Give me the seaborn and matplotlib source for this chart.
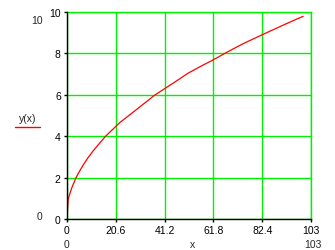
import matplotlib
matplotlib.use("Agg")
import matplotlib.pyplot as plt
import seaborn as sns
import pandas as pd

# data
x_vals = [0, 0.25, 0.5, 1.0, 2.0, 3.8, 5.5, 6.9, 9.0, 11.1, 13.9, 16.3, 19.5, 22.4,
          28.7, 33.0, 37.1, 44.9, 51.2, 56.0, 61.1, 67.4, 74.0, 82.2, 90.0, 97.0, 99.7]
y_vals = [0, 0.5, 0.95, 1.15, 1.5, 2.0, 2.35, 2.62, 2.98, 3.3, 3.68, 4.0, 4.35, 4.67,
          5.23, 5.62, 5.99, 6.57, 7.05, 7.35, 7.65, 8.05, 8.45, 8.89, 9.3, 9.66, 9.79]
x_ticks = [0, 20.6, 41.2, 61.8, 82.4, 103]
x_tick_labels = ["0", "20.6", "41.2", "61.8", "82.4", "103"]
y_ticks = [0, 2, 4, 6, 8, 10]
y_tick_labels = ["0", "2", "4", "6", "8", "10"]

sns.set_style("white")
plt.rcParams['font.family'] = ['Liberation Sans', 'DejaVu Sans']

W, H = 335, 251
fig = plt.figure(figsize=(W / 100, H / 100), dpi=100)
ax = fig.add_axes([67 / W, 1 - 220 / H, (311 - 67) / W, (220 - 13) / H])

df = pd.DataFrame({"x": x_vals, "y": y_vals})
sns.lineplot(data=df, x="x", y="y", ax=ax, color="#ff0000", linewidth=0.9,
             estimator=None, sort=False, zorder=3)

ax.set_xlim(0, 103)
ax.set_ylim(0, 10)
ax.set_xticks(x_ticks)
ax.set_xticklabels(x_tick_labels)
ax.set_yticks(y_ticks)
ax.set_yticklabels(y_tick_labels)
ax.set_xlabel("")
ax.set_ylabel("")

green = "#00f000"
ax.grid(True, color=green, linewidth=1.0)
ax.set_axisbelow(True)
for s in ["top", "right"]:
    ax.spines[s].set_color(green)
    ax.spines[s].set_linewidth(1.0)
for s in ["left", "bottom"]:
    ax.spines[s].set_color("black")
    ax.spines[s].set_linewidth(1.0)
    ax.spines[s].set_zorder(4)

ax.tick_params(axis="both", which="both", direction="out", length=2.5, width=1.0,
               color="black", labelsize=7.5, labelcolor="black", pad=2,
               bottom=True, left=True)

def ftext(px, py, s, **kw):
    fig.text(px / W, 1 - py / H, s, fontsize=7.5, ha="center", va="center", **kw)

ftext(37, 20.5, "10")
ftext(39.5, 217.5, "0")
ftext(66, 245.5, "0")
ftext(313, 245.5, "103")
ftext(192.5, 245, "x")
ftext(27.5, 119, "y(x)")
fig.add_artist(plt.Line2D([15 / W, 40 / W], [1 - 128 / H, 1 - 128 / H],
                          color="#ff0000", linewidth=1.0))

fig.savefig("out.png", dpi=100)
